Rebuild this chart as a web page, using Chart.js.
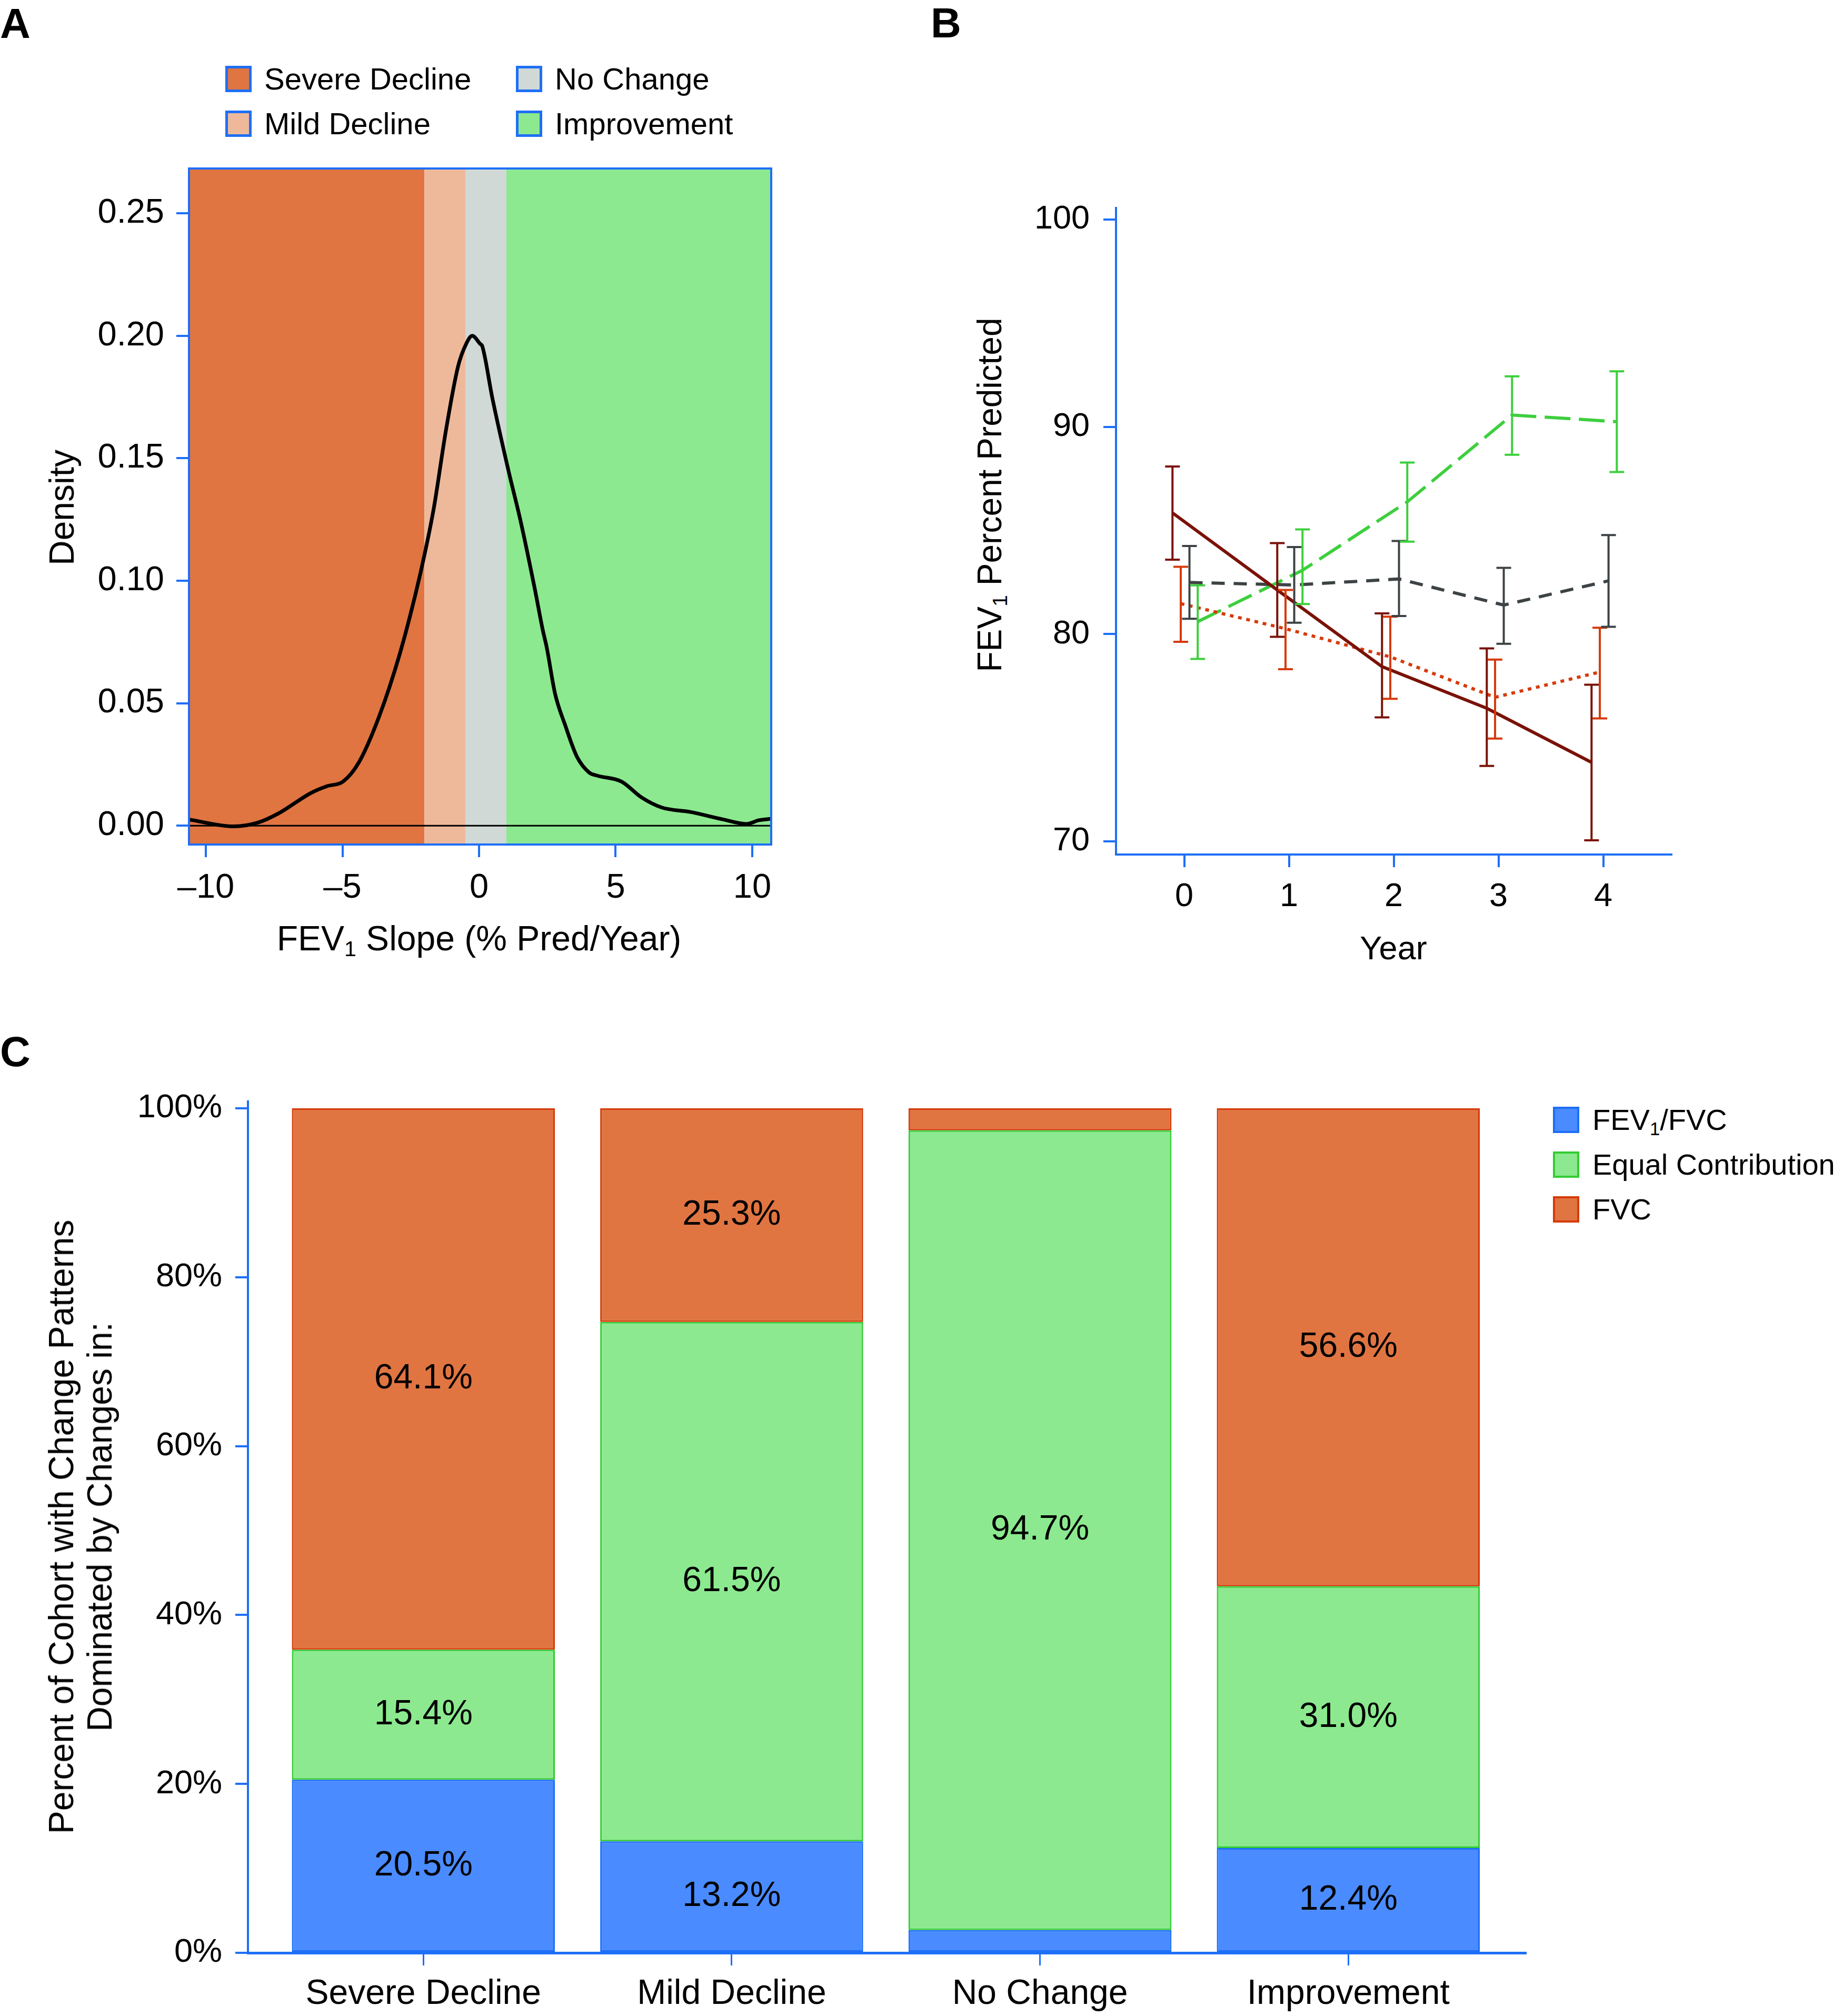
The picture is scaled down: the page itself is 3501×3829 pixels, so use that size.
<!DOCTYPE html>
<html>
<head>
<meta charset="utf-8">
<script src="https://cdn.jsdelivr.net/npm/chart.js@4.4.1/dist/chart.umd.min.js"></script>
<style>
html,body{margin:0;padding:0;background:#fff;}
body{width:3501px;height:3829px;position:relative;overflow:hidden;font-family:"Liberation Sans",Arial,Helvetica,sans-serif;color:#000;}
canvas{position:absolute;}
.lbl{position:absolute;font-weight:bold;font-size:80px;line-height:1;}
.t{position:absolute;white-space:nowrap;line-height:1;transform:translate(-50%,-50%);text-align:center;}
.rot{transform:translate(-50%,-50%) rotate(-90deg);}
.sq{position:absolute;width:50px;height:50px;box-sizing:border-box;border:5px solid #1e6ff7;}
.lt{position:absolute;white-space:nowrap;line-height:1;transform:translateY(-50%);}
sub{font-size:0.62em;vertical-align:-0.28em;line-height:0;}
</style>
</head>
<body>
<canvas id="cA"></canvas>
<canvas id="cB"></canvas>
<canvas id="cC"></canvas>

<div class="lbl" style="left:0px;top:5px;">A</div>
<div class="lbl" style="left:1768px;top:4px;">B</div>
<div class="lbl" style="left:0px;top:1958px;">C</div>

<div class="t rot" style="left:117px;top:964px;font-size:66px;">Density</div>
<div class="t" style="left:910px;top:1782px;font-size:66px;">FEV<sub>1</sub> Slope (% Pred/Year)</div>

<div class="t rot" style="left:1880px;top:940px;font-size:64px;">FEV<sub>1</sub> Percent Predicted</div>
<div class="t" style="left:2647px;top:1800px;font-size:63px;">Year</div>

<div class="t rot" style="left:153px;top:2900px;font-size:66px;line-height:73px;">Percent of Cohort with Change Patterns<br>Dominated by Changes in:</div>

<div id="legA"></div>
<div id="legC"></div>

<script>
// ================= DATA =================
// Panel A: density of FEV1 slope
const bandNames = ['Severe Decline', 'Mild Decline', 'No Change', 'Improvement'];
const bandEdges = [-2, -0.5, 1];
const densityX = [-10.66, -8.97, -8.08, -7.34, -6.16, -5.57, -4.98, -4.39, -3.65, -2.91, -2.32, -1.95, -1.65, -1.21, -0.77, -0.47, -0.25, 0.04, 0.12, 0.49, 1.08, 1.52, 2.04, 2.33, 2.48, 2.78, 3.15, 3.59, 4.03, 4.33, 5.21, 5.95, 6.69, 7.73, 8.91, 9.79, 10.24, 10.68];
const densityY = [0.0026, -0.0003, 0.0013, 0.005, 0.0133, 0.0161, 0.018, 0.026, 0.0448, 0.0698, 0.0948, 0.113, 0.130, 0.1615, 0.1874, 0.1967, 0.200, 0.1967, 0.1957, 0.1744, 0.1448, 0.1244, 0.0967, 0.080, 0.0726, 0.054, 0.0411, 0.028, 0.0217, 0.0204, 0.018, 0.0115, 0.0074, 0.0056, 0.0026, 0.0007, 0.0022, 0.0028];
const slopeTicks = [-10, -5, 0, 5, 10];
const densityTicks = [0, 0.05, 0.10, 0.15, 0.20, 0.25];

// Panel B: FEV1 % predicted by year
const years = [0, 1, 2, 3, 4];
const severeMean = [85.85, 82.13, 78.43, 76.42, 73.81];
const severeLo   = [83.59, 79.87, 75.98, 73.64, 70.05];
const severeHi   = [88.09, 84.39, 81.00, 79.31, 77.56];
const mildMean = [81.47, 80.26, 78.90, 76.95, 78.17];
const mildLo   = [79.63, 78.31, 76.88, 74.96, 75.93];
const mildHi   = [83.25, 82.13, 80.84, 78.77, 80.31];
const noChangeMean = [82.49, 82.37, 82.66, 81.40, 82.57];
const noChangeLo   = [80.74, 80.55, 80.87, 79.53, 80.35];
const noChangeHi   = [84.25, 84.20, 84.49, 83.20, 84.78];
const improvementMean = [80.60, 83.08, 86.38, 90.57, 90.25];
const improvementLo   = [78.80, 81.45, 84.46, 88.65, 87.82];
const improvementHi   = [82.35, 85.05, 88.28, 92.44, 92.68];
const pctTicks = [70, 80, 90, 100];

// Panel C: stacked percentages
const categories = ['Severe Decline', 'Mild Decline', 'No Change', 'Improvement'];
const seriesNames = ['FEV<sub>1</sub>/FVC', 'Equal Contribution', 'FVC'];
const fev1fvcPct = [20.5, 13.2, 2.7, 12.4];
const equalPct   = [15.4, 61.5, 94.7, 31.0];
const fvcPct     = [64.1, 25.3, 2.6, 56.6];
const cohortTicks = [0, 20, 40, 60, 80, 100];

// ================= STYLE =================
const BLUE = '#1e6ff7';
const FONT = '"Liberation Sans", Arial, Helvetica, sans-serif';
Chart.defaults.font.family = FONT;
Chart.defaults.color = '#000';
const bandFill = ['#e07542', '#eeb99b', '#d0d9d6', '#8ce98f'];
const lineColors = ['#7a1208', '#d63a0c', '#3d4345', '#3dcf3d'];
const lineDash = [[], [7, 9], [25, 17], [49, 16]];
const dodge = [-0.112, -0.033, 0.05, 0.129];
const barFill = ['#4a8bff', '#8ce98f', '#e07542'];
const barBorder = ['#1e6ff7', '#33cc33', '#d63a0a'];

function makeCanvas(id, left, top, w, h) {
  const c = document.getElementById(id);
  c.width = w; c.height = h;
  c.style.left = left + 'px'; c.style.top = top + 'px';
  c.style.width = w + 'px'; c.style.height = h + 'px';
  return c;
}
function tickGrid(w) {
  return {drawOnChartArea: false, drawTicks: true, tickLength: 24, tickColor: BLUE, tickWidth: w, color: BLUE, lineWidth: w};
}

// ================= LEGENDS (HTML) =================
(function () {
  const legA = document.getElementById('legA');
  const posA = [[428, 125], [428, 210], [980, 125], [980, 210]];
  bandNames.forEach((n, i) => {
    const [x, y] = posA[i];
    legA.insertAdjacentHTML('beforeend',
      `<div class="sq" style="left:${x}px;top:${y}px;background:${bandFill[i]};"></div>` +
      `<div class="lt" style="left:${x + 74}px;top:${y + 25}px;font-size:58px;">${n}</div>`);
  });
  const legC = document.getElementById('legC');
  seriesNames.forEach((n, i) => {
    const y = 2102 + i * 85;
    legC.insertAdjacentHTML('beforeend',
      `<div class="sq" style="left:2950px;top:${y}px;background:${barFill[i]};border:4px solid ${barBorder[i]};"></div>` +
      `<div class="lt" style="left:3025px;top:${y + 25}px;font-size:56px;">${n}</div>`);
  });
})();

// ================= PANEL A =================
const bandsPlugin = {
  id: 'bands',
  beforeDatasetsDraw(chart) {
    const {ctx, chartArea: a, scales: {x, y}} = chart;
    const edges = [a.left, ...bandEdges.map(v => x.getPixelForValue(v)), a.right];
    ctx.save();
    for (let i = 0; i < bandFill.length; i++) {
      ctx.fillStyle = bandFill[i];
      ctx.fillRect(edges[i], a.top, edges[i + 1] - edges[i], a.bottom - a.top);
    }
    const y0 = y.getPixelForValue(0);
    ctx.strokeStyle = '#000'; ctx.lineWidth = 3;
    ctx.beginPath(); ctx.moveTo(a.left, y0); ctx.lineTo(a.right, y0); ctx.stroke();
    ctx.restore();
  },
  afterDatasetsDraw(chart) {
    const {ctx, chartArea: a} = chart;
    ctx.save();
    ctx.strokeStyle = BLUE; ctx.lineWidth = 4;
    ctx.strokeRect(a.left, a.top, a.right - a.left, a.bottom - a.top);
    ctx.restore();
  }
};

new Chart(makeCanvas('cA', 0, 250, 1540, 1480), {
  type: 'line',
  data: {datasets: [{
    label: 'Density',
    data: densityX.map((x, i) => ({x: x, y: densityY[i]})),
    borderColor: '#000', borderWidth: 7, pointRadius: 0, fill: false,
    cubicInterpolationMode: 'monotone'
  }]},
  options: {
    responsive: false, animation: false, devicePixelRatio: 1,
    layout: {padding: {left: 0, top: 70, right: 75, bottom: 0}},
    plugins: {legend: {display: false}, tooltip: {enabled: false}},
    scales: {
      x: {
        type: 'linear', min: -10.617, max: 10.694,
        afterFit(s) { s.height = 126; },
        afterBuildTicks(s) { s.ticks = slopeTicks.map(v => ({value: v})); },
        ticks: {callback: v => v < 0 ? '\u2013' + Math.abs(v) : String(v), font: {size: 65}, color: '#000', padding: 20, maxRotation: 0, autoSkip: false},
        grid: tickGrid(4), border: {display: false}
      },
      y: {
        type: 'linear', min: -0.0077, max: 0.2683,
        afterFit(s) { s.width = 359; },
        afterBuildTicks(s) { s.ticks = densityTicks.map(v => ({value: v})); },
        ticks: {callback: v => v.toFixed(2), font: {size: 65}, color: '#000', padding: 23, autoSkip: false},
        grid: tickGrid(4), border: {display: false}
      }
    }
  },
  plugins: [bandsPlugin]
});

// ================= PANEL B =================
const errorBars = {
  id: 'errorBars',
  afterDatasetsDraw(chart) {
    const {ctx, scales: {x, y}} = chart;
    ctx.save();
    chart.data.datasets.forEach(ds => {
      ctx.strokeStyle = ds.borderColor; ctx.lineWidth = 4; ctx.setLineDash([]); ctx.lineCap = 'butt';
      ds.data.forEach((p, i) => {
        const px = x.getPixelForValue(p.x);
        const y1 = y.getPixelForValue(ds.errLo[i]);
        const y2 = y.getPixelForValue(ds.errHi[i]);
        ctx.beginPath();
        ctx.moveTo(px, y1); ctx.lineTo(px, y2);
        ctx.moveTo(px - 14, y1); ctx.lineTo(px + 14, y1);
        ctx.moveTo(px - 14, y2); ctx.lineTo(px + 14, y2);
        ctx.stroke();
      });
    });
    ctx.restore();
  }
};
const groupMeans = [severeMean, mildMean, noChangeMean, improvementMean];
const groupLo = [severeLo, mildLo, noChangeLo, improvementLo];
const groupHi = [severeHi, mildHi, noChangeHi, improvementHi];

new Chart(makeCanvas('cB', 1950, 325, 1300, 1445), {
  type: 'line',
  data: {datasets: bandNames.map((n, k) => ({
    label: n,
    data: years.map((yr, i) => ({x: yr + dodge[k], y: groupMeans[k][i]})),
    errLo: groupLo[k], errHi: groupHi[k],
    borderColor: lineColors[k], borderWidth: 6, borderDash: lineDash[k],
    pointRadius: 0, fill: false, tension: 0
  }))},
  options: {
    responsive: false, animation: false, devicePixelRatio: 1,
    layout: {padding: {left: 0, top: 70, right: 75, bottom: 0}},
    plugins: {legend: {display: false}, tooltip: {enabled: false}},
    scales: {
      x: {
        type: 'linear', min: -0.651, max: 4.65,
        afterFit(s) { s.height = 147; },
        afterBuildTicks(s) { s.ticks = years.map(v => ({value: v})); },
        ticks: {callback: v => String(v), font: {size: 63}, color: '#000', padding: 19, maxRotation: 0, autoSkip: false},
        grid: tickGrid(4), border: {display: true, color: BLUE, width: 4}
      },
      y: {
        type: 'linear', min: 69.365, max: 100.56,
        afterFit(s) { s.width = 170; },
        afterBuildTicks(s) { s.ticks = pctTicks.map(v => ({value: v})); },
        ticks: {callback: v => String(v), font: {size: 63}, color: '#000', padding: 26, autoSkip: false},
        grid: tickGrid(4), border: {display: true, color: BLUE, width: 4}
      }
    }
  },
  plugins: [errorBars]
});

// ================= PANEL C =================
const seriesValues = [fev1fvcPct, equalPct, fvcPct];
const barLabels = {
  id: 'barLabels',
  afterDatasetsDraw(chart) {
    const ctx = chart.ctx;
    ctx.save();
    ctx.font = '66px ' + FONT; ctx.fillStyle = '#000';
    ctx.textAlign = 'center'; ctx.textBaseline = 'middle';
    chart.data.datasets.forEach((ds, di) => {
      chart.getDatasetMeta(di).data.forEach((el, i) => {
        const v = ds.data[i].y;
        if (v < 5) return;
        ctx.fillText(v.toFixed(1) + '%', el.x, (el.y + el.base) / 2);
      });
    });
    ctx.restore();
  }
};

new Chart(makeCanvas('cC', 200, 2022, 2750, 1807), {
  type: 'bar',
  data: {datasets: seriesValues.map((vals, k) => ({
    label: seriesNames[k].replace(/<\/?sub>/g, ''),
    data: categories.map((c, i) => ({x: i, y: vals[i]})),
    backgroundColor: barFill[k], borderColor: barBorder[k], borderWidth: 3, borderSkipped: false,
    categoryPercentage: 0.853, barPercentage: 1
  }))},
  options: {
    responsive: false, animation: false, devicePixelRatio: 1,
    layout: {padding: {left: 0, top: 70, right: 52, bottom: 0}},
    plugins: {legend: {display: false}, tooltip: {enabled: false}},
    scales: {
      x: {
        type: 'linear', stacked: true, offset: false, min: -0.569, max: 3.575,
        afterFit(s) { s.height = 120; },
        afterBuildTicks(s) { s.ticks = categories.map((c, i) => ({value: i})); },
        ticks: {callback: v => categories[v], font: {size: 66}, color: '#000', padding: 15, maxRotation: 0, autoSkip: false},
        grid: Object.assign(tickGrid(3), {offset: false}), border: {display: true, color: BLUE, width: 5}
      },
      y: {
        type: 'linear', stacked: true, min: 0, max: 100.81,
        afterFit(s) { s.width = 271; },
        afterBuildTicks(s) { s.ticks = cohortTicks.map(v => ({value: v})); },
        ticks: {callback: v => v + '%', font: {size: 63}, color: '#000', padding: 25, autoSkip: false},
        grid: tickGrid(4), border: {display: true, color: BLUE, width: 4}
      }
    }
  },
  plugins: [barLabels]
});
</script>
</body>
</html>
